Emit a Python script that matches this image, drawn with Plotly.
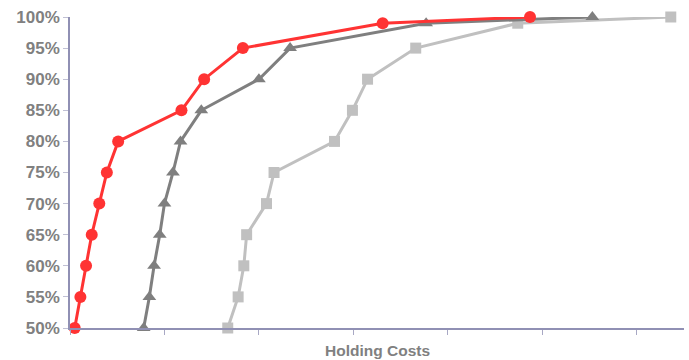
import plotly.graph_objects as go

# Service level (%) on y; holding cost (arbitrary units, tick spacing = 1) on x
levels = [50, 55, 60, 65, 70, 75, 80, 85, 90, 95, 99, 100]

red_cost = [0.05, 0.11, 0.17, 0.23, 0.31, 0.39, 0.51, 1.18, 1.42, 1.83, 3.31, 4.87]
dark_cost = [0.78, 0.84, 0.89, 0.95, 1.00, 1.09, 1.17, 1.39, 2.00, 2.33, 3.77, 5.53]
light_cost = [1.67, 1.78, 1.84, 1.87, 2.08, 2.16, 2.80, 2.99, 3.15, 3.66, 4.74, 6.36]

y_ticks = [50, 55, 60, 65, 70, 75, 80, 85, 90, 95, 100]
y_tick_labels = ["50%", "55%", "60%", "65%", "70%", "75%", "80%", "85%", "90%", "95%", "100%"]

fig = go.Figure()
fig.add_trace(go.Scatter(
    x=light_cost, y=levels, mode="lines+markers",
    line=dict(color="#c0c0c0", width=3),
    marker=dict(symbol="square", size=11, color="#c0c0c0"),
    cliponaxis=False, showlegend=False))
fig.add_trace(go.Scatter(
    x=dark_cost, y=levels, mode="lines+markers",
    line=dict(color="#7f7f7f", width=3),
    marker=dict(symbol="triangle-up", size=12, color="#7f7f7f"),
    cliponaxis=False, showlegend=False))
fig.add_trace(go.Scatter(
    x=red_cost, y=levels, mode="lines+markers",
    line=dict(color="#ff3333", width=3),
    marker=dict(symbol="circle", size=12, color="#ff3333"),
    cliponaxis=False, showlegend=False))

axis_col = "#9090b4"
fig.update_layout(
    width=689, height=360,
    margin=dict(l=70, r=5, t=17, b=32),
    paper_bgcolor="white", plot_bgcolor="white",
    xaxis=dict(range=[0, 6.5], dtick=1, tick0=0, showticklabels=False,
               showgrid=False, zeroline=False, showline=True,
               linecolor=axis_col, linewidth=1.5,
               ticks="outside", ticklen=5, tickcolor="#a8a8c4", tickwidth=1),
    yaxis=dict(range=[50, 100], tickvals=y_ticks, ticktext=y_tick_labels,
               showgrid=False, zeroline=False, showline=True,
               linecolor=axis_col, linewidth=1.5,
               ticks="outside", ticklen=5, tickcolor="#c0c0d4", tickwidth=1,
               tickfont=dict(family="Liberation Sans", size=17, color="#808080",
                             weight="bold")),
    annotations=[dict(text="Holding Costs", x=0.5, xref="paper", y=0, yref="paper",
                      yshift=-22, yanchor="middle", showarrow=False,
                      font=dict(family="Liberation Sans", size=15.5, color="#808080",
                                weight="bold"))],
)

fig.write_html("out.html")
